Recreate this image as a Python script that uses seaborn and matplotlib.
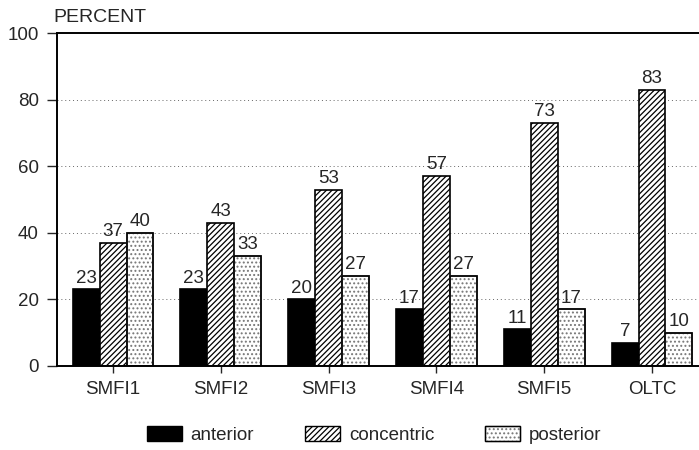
import numpy as np
import pandas as pd
import matplotlib
matplotlib.use("Agg")
import matplotlib.pyplot as plt
import seaborn as sns
from matplotlib.patches import Patch

groups = ["SMFI1", "SMFI2", "SMFI3", "SMFI4", "SMFI5", "OLTC"]
anterior = [23, 23, 20, 17, 11, 7]
concentric = [37, 43, 53, 57, 73, 83]
posterior = [40, 33, 27, 27, 17, 10]
series = ["anterior", "concentric", "posterior"]
y_ticks = [0, 20, 40, 60, 80, 100]

df = pd.DataFrame({
    "group": groups * 3,
    "type": np.repeat(series, len(groups)),
    "percent": anterior + concentric + posterior,
})

sns.set_style("white")
plt.rcParams["font.family"] = ["Liberation Sans", "DejaVu Sans"]
plt.rcParams["hatch.linewidth"] = 0.9
fs = 13.5

fig = plt.figure(figsize=(6.99, 4.5), dpi=100)
ax = fig.add_axes([57 / 699, 1 - 366 / 450, 1 - 57 / 699, (366 - 33) / 450])

sns.barplot(data=df, x="group", y="percent", hue="type", order=groups,
            hue_order=series, width=0.75, gap=0, ax=ax, legend=False,
            edgecolor="black", linewidth=1.2)

# fill / hatch per series; posterior dots drawn grey, outline added on top
styles = {
    "anterior": dict(facecolor="black", hatch=None, edge="black"),
    "concentric": dict(facecolor="white", hatch="//////", edge="black"),
    "posterior": dict(facecolor="white", hatch="....", edge="#777777"),
}
for cont, name in zip(ax.containers, series):
    for bar in cont:
        bar.set_facecolor(styles[name]["facecolor"])
        bar.set_edgecolor(styles[name]["edge"])
        if styles[name]["hatch"]:
            bar.set_hatch(styles[name]["hatch"])
    ax.bar_label(cont, padding=2, fontsize=fs)

# black outlines for the grey-dotted bars
for bar in ax.containers[2]:
    ax.add_patch(plt.Rectangle(bar.get_xy(), bar.get_width(), bar.get_height(),
                               fill=False, edgecolor="black", linewidth=1.2))

ax.set_xlim(-0.52, (699 - 113) / 107.8)
ax.set_ylim(0, 100)
ax.set_yticks(y_ticks)
ax.set_xlabel("")
ax.set_ylabel("")
ax.tick_params(axis="y", direction="out", length=7, width=1, pad=6,
               labelsize=fs, left=True)
ax.tick_params(axis="x", direction="out", length=5, width=1, pad=6,
               labelsize=fs, bottom=True)

for y in y_ticks[1:-1]:
    ax.axhline(y, color="#666666", linewidth=0.7, linestyle=(0, (1, 3)), zorder=0)

for side in ["left", "bottom", "top"]:
    ax.spines[side].set_visible(True)
    ax.spines[side].set_color("black")
    ax.spines[side].set_linewidth(1.4)
ax.spines["right"].set_visible(False)

fig.text(53 / 699, 1 - 17 / 450, "PERCENT", fontsize=14, va="center", ha="left")

handles = [Patch(facecolor=styles[s]["facecolor"], edgecolor="black",
                 hatch=styles[s]["hatch"], label=s) for s in series[:2]]
post_handle = Patch(facecolor="white", edgecolor="#777777", hatch="....", label="posterior")
post_edge = Patch(fill=False, edgecolor="black")
handles.append((post_handle, post_edge))
fig.legend(handles=handles, labels=series, loc="center",
           bbox_to_anchor=(374 / 699, 1 - 435 / 450),
           ncol=3, frameon=False, fontsize=fs, handlelength=1.9, handleheight=0.8,
           handletextpad=0.45, columnspacing=2.7)

fig.savefig("out.png", dpi=100)
